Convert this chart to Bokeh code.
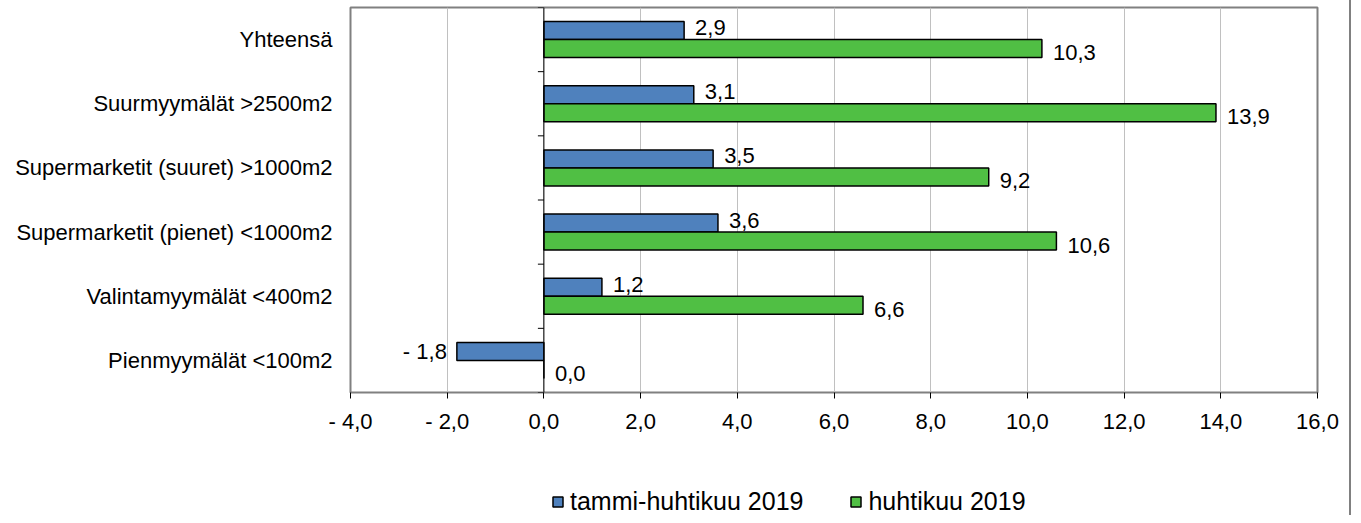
from bokeh.plotting import figure
from bokeh.layouts import column
from bokeh.models import Range1d, FixedTicker, Legend, LegendItem, ColumnDataSource, Span
from bokeh.core.properties import value
from bokeh.embed import file_html
from bokeh.resources import INLINE

categories = ["Yhteensä", "Suurmyymälät >2500m2", "Supermarketit (suuret) >1000m2",
              "Supermarketit (pienet) <1000m2", "Valintamyymälät <400m2", "Pienmyymälät <100m2"]
tammi_huhti_2019 = [2.9, 3.1, 3.5, 3.6, 1.2, -1.8]
huhti_2019 = [10.3, 13.9, 9.2, 10.6, 6.6, 0.0]
series_names = ["tammi-huhtikuu 2019", "huhtikuu 2019"]
x_ticks = [-4, -2, 0, 2, 4, 6, 8, 10, 12, 14, 16]

FONT = "Liberation Sans"
BLUE = "#4F81BD"
GREEN = "#50BF44"
BORDER = {"border-right": "2px solid #808080"}


def fi(v):
    s = f"{abs(v):.1f}".replace(".", ",")
    return "- " + s if v < 0 else s


n = len(categories)
centers = [n - i - 0.5 for i in range(n)]
bar_h = 0.28
off = 0.14

p = figure(width=1351, height=460, output_backend="svg", toolbar_location=None,
           x_range=Range1d(x_ticks[0], x_ticks[-1]), y_range=Range1d(0, n),
           min_border_left=350, min_border_right=34, min_border_top=7, min_border_bottom=68)
p.styles = BORDER
p.background_fill_color = "white"
p.border_fill_color = "white"
p.outline_line_color = "#808080"
p.outline_line_width = 2

p.xgrid.grid_line_color = "#C0C0C0"
p.xgrid.ticker = FixedTicker(ticks=x_ticks)
p.ygrid.grid_line_color = None

p.xaxis.ticker = FixedTicker(ticks=x_ticks)
p.xaxis.major_label_overrides = {t: fi(t) for t in x_ticks}
p.xaxis.axis_line_color = None
p.xaxis.major_tick_line_color = "black"
p.xaxis.major_tick_out = 6
p.xaxis.major_tick_in = 0
p.xaxis.minor_tick_line_color = None
p.xaxis.major_label_text_font = FONT
p.xaxis.major_label_text_font_size = "22px"
p.xaxis.major_label_text_color = "black"
p.xaxis.major_label_standoff = 10

p.yaxis.ticker = FixedTicker(ticks=centers)
p.yaxis.major_label_overrides = {c: name for c, name in zip(centers, categories)}
p.yaxis.axis_line_color = None
p.yaxis.major_tick_line_color = None
p.yaxis.major_tick_out = 0
p.yaxis.major_tick_in = 0
p.yaxis.minor_tick_line_color = None
p.yaxis.major_label_text_font = FONT
p.yaxis.major_label_text_font_size = "22px"
p.yaxis.major_label_text_color = "black"
p.yaxis.major_label_standoff = 18

src1 = ColumnDataSource(dict(y=[c + off for c in centers], right=tammi_huhti_2019,
                             left=[0] * n))
src2 = ColumnDataSource(dict(y=[c - off for c in centers], right=huhti_2019,
                             left=[0] * n))
p.hbar(y="y", left="left", right="right", height=bar_h, source=src1,
       fill_color=BLUE, line_color="black", line_width=1.5)
p.hbar(y="y", left="left", right="right", height=bar_h, source=src2,
       fill_color=GREEN, line_color="black", line_width=1.5)

# zero axis line and its category ticks
p.add_layout(Span(location=0, dimension="height", line_color="black", line_width=1))
tick_len = 6 * (x_ticks[-1] - x_ticks[0]) / 967.0
bounds = list(range(0, n + 1))
p.segment(x0=[-tick_len] * len(bounds), x1=[0] * len(bounds), y0=bounds, y1=bounds,
          line_color="black", line_width=1)

# data labels
for vals, ys, yoff in [(tammi_huhti_2019, src1.data["y"], -3), (huhti_2019, src2.data["y"], 4)]:
    pos = [(v, y) for v, y in zip(vals, ys) if v >= 0]
    neg = [(v, y) for v, y in zip(vals, ys) if v < 0]
    if pos:
        p.text(x=[v for v, _ in pos], y=[y for _, y in pos], text=[fi(v) for v, _ in pos],
               x_offset=11, y_offset=yoff, text_align="left", text_baseline="middle",
               text_font=value(FONT), text_font_size="22px", text_color="black")
    if neg:
        p.text(x=[v for v, _ in neg], y=[y for _, y in neg], text=[fi(v) for v, _ in neg],
               x_offset=-10, y_offset=0, text_align="right", text_baseline="middle",
               text_font=value(FONT), text_font_size="22px", text_color="black")

# legend strip below the chart (its frame is aligned with the main chart's frame)
lg = figure(width=1351, height=55, output_backend="svg", toolbar_location=None,
            x_range=Range1d(0, 1), y_range=Range1d(0, 1),
            min_border_left=0, min_border_right=0, min_border_top=0, min_border_bottom=0)
lg.styles = BORDER
lg.axis.visible = False
lg.grid.grid_line_color = None
lg.outline_line_color = None
lg.background_fill_color = "white"
lg.border_fill_color = "white"
# proxy squares kept outside the visible range, used only for the legend swatches
l1 = lg.scatter(x=[5], y=[5], marker="square", size=10, fill_color=BLUE,
                line_color="black", line_width=1.5)
l2 = lg.scatter(x=[5], y=[5], marker="square", size=10, fill_color=GREEN,
                line_color="black", line_width=1.5)
legend = Legend(items=[LegendItem(label=series_names[0], renderers=[l1]),
                       LegendItem(label=series_names[1], renderers=[l2])],
                orientation="horizontal", location=(195, -1),
                glyph_width=25, glyph_height=25, label_standoff=-5, spacing=40,
                padding=0, margin=0, border_line_color=None, background_fill_alpha=0,
                label_text_font=FONT, label_text_font_size="25px", label_text_color="black")
lg.add_layout(legend)

layout = column(p, lg, spacing=0)
open("out.html", "w").write(file_html(layout, INLINE))
